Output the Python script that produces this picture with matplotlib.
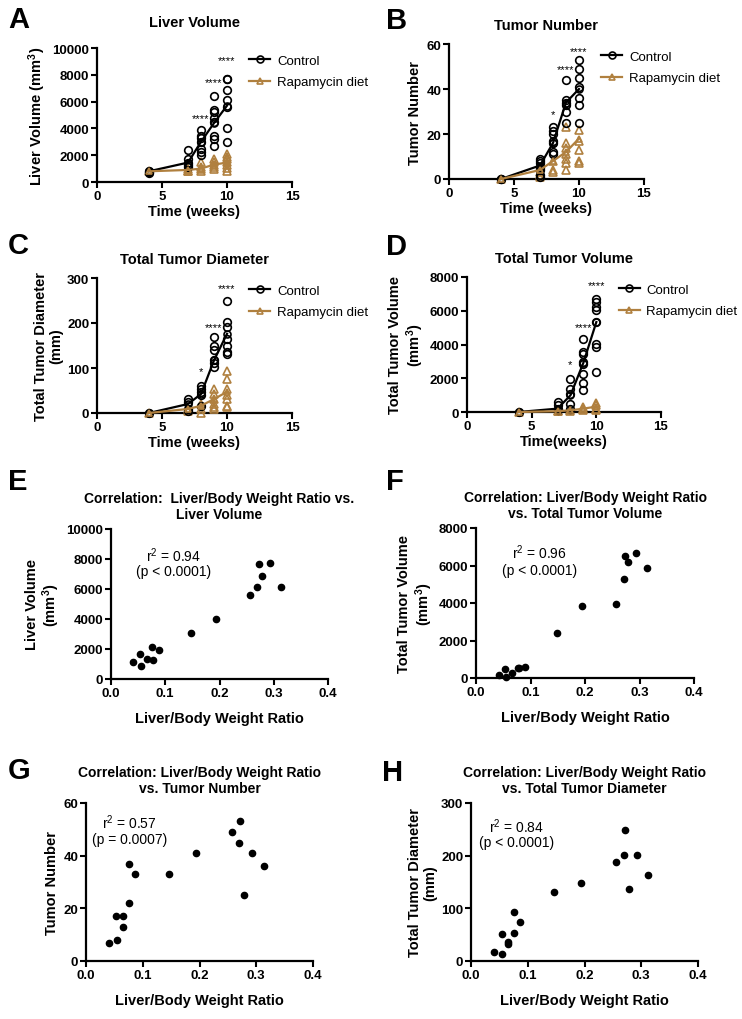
import matplotlib
matplotlib.use("Agg")
import matplotlib.pyplot as plt

plt.rcParams["font.family"] = ["Liberation Sans", "DejaVu Sans"]
plt.rcParams["font.weight"] = "bold"
plt.rcParams["mathtext.default"] = "regular"

BROWN = "#B0803F"

# ------------------------------
# time course data (weeks)
# ------------------------------
weeks = [4, 7, 8, 9, 10]

# A. liver volume
A_ctrl_pts = [[850, 750, 700], [2400, 1750, 1450, 1250, 1150],
              [3900, 3400, 3250, 3000, 2500, 2250, 2050],
              [6450, 5400, 5200, 4800, 4450, 3450, 3200, 2650],
              [7700, 7650, 6900, 6100, 5600, 4000, 3000]]
A_ctrl_mean = [800, 1450, 3000, 4400, 5700]
A_rapa_pts = [[800], [950, 850, 800], [1500, 1100, 950, 850],
              [1700, 1500, 1300, 1100, 1000],
              [2100, 1900, 1700, 1500, 1300, 1050, 800]]
A_rapa_mean = [800, 900, 1000, 1300, 1450]
A_stars = [(8, 4800, "****"), (9, 7450, "****"), (10, 9100, "****")]

# B. tumor number
B_ctrl_pts = [[0, 0], [9, 8, 7, 5, 4, 2, 1], [23, 21.5, 20, 17, 16, 12, 11],
              [44, 35, 34, 33, 30, 25], [53, 49, 45, 41, 36, 33, 25]]
B_ctrl_mean = [0, 6, 16, 34, 40]
B_rapa_pts = [[0], [3, 2, 1], [8, 4, 3], [23, 16, 14, 11, 9, 7, 4],
              [22, 17, 13, 8, 7]]
B_rapa_mean = [0, 4, 8, 12, 18]
B_stars = [(8, 29, "*"), (9, 49, "****"), (10, 57, "****")]

# C. total tumor diameter
C_ctrl_pts = [[0], [31, 24, 9, 5], [61, 53, 46, 39, 16],
              [168, 148, 139, 117, 111, 102],
              [249, 202, 191, 165, 150, 135, 131]]
C_ctrl_mean = [0, 20, 42, 117, 176]
C_rapa_pts = [[0], [9, 5], [20, 9, 1], [53, 42, 31, 20, 13, 9],
              [93, 76, 53, 39, 31, 16, 13]]
C_rapa_mean = [0, 9, 16, 31, 47]
C_stars = [(8, 93, "*"), (9, 191, "****"), (10, 278, "****")]

# D. total tumor volume
D_ctrl_pts = [[0], [590, 400, 200, 100], [1940, 1380, 1050, 490, 200],
              [4350, 3560, 3420, 2960, 2860, 2270, 1740, 1280],
              [6700, 6500, 6250, 6050, 5330, 4050, 3850, 2370]]
D_ctrl_mean = [0, 200, 990, 2920, 5330]
D_rapa_pts = [[0], [60, 30], [120, 60], [300, 200, 100], [550, 400, 200, 100]]
D_rapa_mean = [0, 50, 100, 200, 320]
D_stars = [(8, 2830, "*"), (9, 5040, "****"), (10, 7550, "****")]

# ------------------------------
# correlation data (liver/body weight ratio)
# ------------------------------
ratio_E = [0.041, 0.054, 0.055, 0.066, 0.077, 0.076, 0.088, 0.148,
           0.194, 0.257, 0.270, 0.273, 0.279, 0.293, 0.313]
liver_E = [1130, 1700, 870, 1350, 1260, 2130, 1960, 3040,
           4000, 5600, 6110, 7640, 6890, 7710, 6160]

ratio_F = [0.043, 0.054, 0.055, 0.066, 0.077, 0.078, 0.089, 0.148,
           0.194, 0.257, 0.271, 0.274, 0.279, 0.293, 0.313]
tvol_F = [180, 480, 40, 250, 520, 560, 570, 2380,
          3820, 3950, 5300, 6490, 6200, 6650, 5890]

ratio_G = [0.041, 0.053, 0.055, 0.065, 0.066, 0.076, 0.076, 0.087,
           0.147, 0.194, 0.257, 0.270, 0.272, 0.279, 0.293, 0.313]
tnum_G = [7, 17, 8, 13, 17, 37, 22, 33, 33, 41, 49, 45, 53, 25, 41, 36]

ratio_H = [0.041, 0.054, 0.054, 0.065, 0.066, 0.076, 0.076, 0.087,
           0.147, 0.194, 0.256, 0.269, 0.272, 0.278, 0.292, 0.312]
tdia_H = [18, 52, 13, 32, 37, 93, 54, 75, 131, 149, 188, 201, 249, 136, 201, 164]


W, H = 742, 1020
fig = plt.figure(figsize=(W / 100, H / 100), dpi=100)


def px_axes(left, top, right, bottom):
    # axes from pixel box of the reference
    return fig.add_axes([left / W, 1 - bottom / H, (right - left) / W, (bottom - top) / H])


def prism_style(ax):
    for s in ["top", "right"]:
        ax.spines[s].set_visible(False)
    for s in ["left", "bottom"]:
        ax.spines[s].set_linewidth(1.6)
    ax.tick_params(width=1.5, length=4, labelsize=9.5, pad=1.5)


def panel_letter(x, y, letter):
    fig.text(x / W, 1 - y / H, letter, fontsize=21, fontweight="bold", va="center", ha="left")


def time_course(ax, ctrl_pts, ctrl_mean, rapa_pts, rapa_mean, stars, ymax, yticks,
                title, ylabel, xlabel="Time (weeks)", title_pad=11):
    for w, pts in zip(weeks, rapa_pts):
        ax.plot([w] * len(pts), pts, ls="none", marker="^", ms=5.5, mfc="none",
                mec=BROWN, mew=1.2, clip_on=False, zorder=3)
    for w, pts in zip(weeks, ctrl_pts):
        ax.plot([w] * len(pts), pts, ls="none", marker="o", ms=5.5, mfc="none",
                mec="black", mew=1.2, clip_on=False, zorder=3)
    ax.plot(weeks, ctrl_mean, color="black", lw=1.6, marker="o", ms=5, mfc="none",
            mew=1.2, label="Control", clip_on=False, zorder=4)
    ax.plot(weeks, rapa_mean, color=BROWN, lw=1.6, marker="^", ms=5, mfc="none",
            mew=1.2, label="Rapamycin diet", clip_on=False, zorder=4)
    for x, y, s in stars:
        ax.text(x, y, s, ha="center", va="center", fontsize=8, fontweight="normal")
    ax.set_xlim(0, 15)
    ax.set_ylim(0, ymax)
    ax.set_xticks([0, 5, 10, 15])
    ax.set_yticks(yticks)
    ax.set_title(title, fontsize=10.5, fontweight="bold", pad=title_pad)
    ax.set_ylabel(ylabel, fontsize=10.5, fontweight="bold", labelpad=3, linespacing=1.1)
    ax.set_xlabel(xlabel, fontsize=10.5, fontweight="bold", labelpad=2)
    ax.legend(loc="upper left", bbox_to_anchor=(0.72, 1.04), frameon=False,
              prop={"size": 9.5, "weight": "normal"}, handlelength=1.6,
              handletextpad=0.5, labelspacing=0.7)
    prism_style(ax)


def correlation(ax, x, y, ymax, yticks, title, ylabel, r2_text, tx, ty1, ty2):
    ax.plot(x, y, ls="none", marker="o", ms=4.5, color="black", clip_on=False)
    ax.set_xlim(0, 0.4)
    ax.set_ylim(0, ymax)
    ax.set_xticks([0.0, 0.1, 0.2, 0.3, 0.4])
    ax.set_xticklabels(["0.0", "0.1", "0.2", "0.3", "0.4"])
    ax.set_yticks(yticks)
    ax.set_title(title, fontsize=10, fontweight="bold", pad=8, linespacing=1.2)
    ax.set_ylabel(ylabel, fontsize=10.5, fontweight="bold", labelpad=3, linespacing=1.1)
    ax.set_xlabel("Liver/Body Weight Ratio", fontsize=10.5, fontweight="bold", labelpad=9)
    ax.text(tx, ty1, r2_text[0], transform=ax.transAxes, ha="center", va="center",
            fontsize=10, fontweight="normal")
    ax.text(tx, ty2, r2_text[1], transform=ax.transAxes, ha="center", va="center",
            fontsize=10, fontweight="normal")
    prism_style(ax)


# ------------------------------
# time course panels
# ------------------------------
axA = px_axes(97, 49, 292, 183)
time_course(axA, A_ctrl_pts, A_ctrl_mean, A_rapa_pts, A_rapa_mean, A_stars, 10000,
            [0, 2000, 4000, 6000, 8000, 10000], "Liver Volume", "Liver Volume (mm$^3$)",
            title_pad=16)

axB = px_axes(449, 45, 644, 180)
time_course(axB, B_ctrl_pts, B_ctrl_mean, B_rapa_pts, B_rapa_mean, B_stars, 60,
            [0, 20, 40, 60], "Tumor Number", "Tumor Number")

axC = px_axes(97, 279, 292, 414)
time_course(axC, C_ctrl_pts, C_ctrl_mean, C_rapa_pts, C_rapa_mean, C_stars, 300,
            [0, 100, 200, 300], "Total Tumor Diameter", "Total Tumor Diameter\n(mm)")

axD = px_axes(467, 278, 661, 413)
time_course(axD, D_ctrl_pts, D_ctrl_mean, D_rapa_pts, D_rapa_mean, D_stars, 8000,
            [0, 2000, 4000, 6000, 8000], "Total Tumor Volume", "Total Tumor Volume\n(mm$^3$)",
            xlabel="Time(weeks)")

# ------------------------------
# correlation panels
# ------------------------------
axE = px_axes(111, 530, 328, 680)
correlation(axE, ratio_E, liver_E, 10000, [0, 2000, 4000, 6000, 8000, 10000],
            "Correlation:  Liver/Body Weight Ratio vs.\nLiver Volume", "Liver Volume\n(mm$^3$)",
            ["r$^2$ = 0.94", "(p < 0.0001)"], 0.29, 0.83, 0.72)

axF = px_axes(476, 529, 694, 679)
correlation(axF, ratio_F, tvol_F, 8000, [0, 2000, 4000, 6000, 8000],
            "Correlation: Liver/Body Weight Ratio\nvs. Total Tumor Volume",
            "Total Tumor Volume\n(mm$^3$)",
            ["r$^2$ = 0.96", "(p < 0.0001)"], 0.29, 0.84, 0.72)

axG = px_axes(86, 804, 313, 962)
correlation(axG, ratio_G, tnum_G, 60, [0, 20, 40, 60],
            "Correlation: Liver/Body Weight Ratio\nvs. Tumor Number", "Tumor Number",
            ["r$^2$ = 0.57", "(p = 0.0007)"], 0.19, 0.88, 0.77)

axH = px_axes(471, 804, 698, 962)
correlation(axH, ratio_H, tdia_H, 300, [0, 100, 200, 300],
            "Correlation: Liver/Body Weight Ratio\nvs. Total Tumor Diameter",
            "Total Tumor Diameter\n(mm)",
            ["r$^2$ = 0.84", "(p < 0.0001)"], 0.2, 0.855, 0.75)

# panel letters
panel_letter(8, 20, "A")
panel_letter(386, 21, "B")
panel_letter(8, 246, "C")
panel_letter(386, 247, "D")
panel_letter(8, 482, "E")
panel_letter(386, 482, "F")
panel_letter(8, 771, "G")
panel_letter(382, 773, "H")

fig.savefig("out.png", dpi=100, facecolor="white")
